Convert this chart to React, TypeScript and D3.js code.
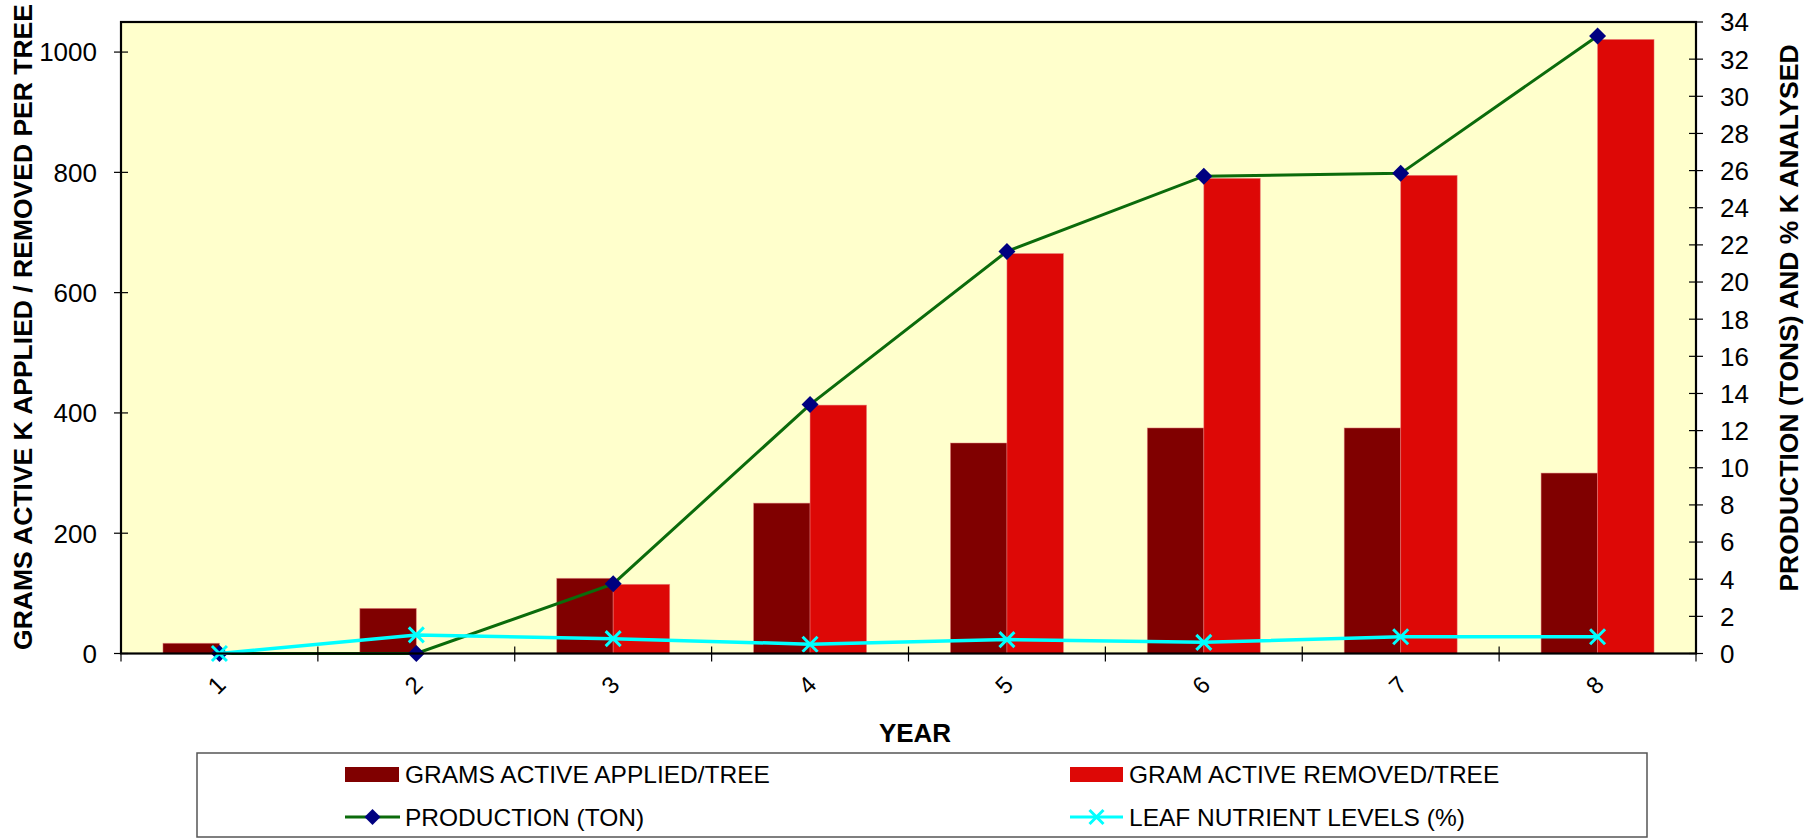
import React from 'react';
import * as d3 from 'd3';

const years = ['1', '2', '3', '4', '5', '6', '7', '8'];
const applied = [17, 75, 125, 250, 350, 375, 375, 300];
const removed = [0, 0, 115, 413, 665, 790, 795, 1021];
const production = [0, 0, 3.75, 13.4, 21.65, 25.7, 25.85, 33.25];
const leaf = [0, 1.0, 0.8, 0.5, 0.75, 0.6, 0.9, 0.9];
const leftTicks = [0, 200, 400, 600, 800, 1000];
const rightTicks = d3.range(0, 35, 2);
const barKeys = ['applied', 'removed'];

const W = 1816, H = 839;
const L = 121, R = 1696, T = 22, B = 653.5;
const FONT = '"Liberation Sans", Arial, Helvetica, sans-serif';

const C_APPLIED = '#800000';
const C_REMOVED = '#DD0806';
const C_PROD = '#0B6B0B';
const C_MARK = '#000080';
const C_LEAF = '#00FFFF';

function Diamond({ x, y, r }: { x: number; y: number; r: number }) {
  return <path d={`M${x},${y - r}L${x + r},${y}L${x},${y + r}L${x - r},${y}Z`} fill={C_MARK} />;
}
function Cross({ x, y, r }: { x: number; y: number; r: number }) {
  return (
    <path d={`M${x - r},${y - r}L${x + r},${y + r}M${x - r},${y + r}L${x + r},${y - r}`} stroke={C_LEAF} strokeWidth={3} fill="none" />
  );
}

export default function App() {
  const x0 = d3.scaleBand<string>().domain(years).range([L, R]).padding(0);
  const bw = x0.bandwidth();
  const x1 = d3.scaleBand<string>().domain(barKeys).range([0, bw]).paddingInner(0).paddingOuter(0.743);
  const yL = d3.scaleLinear().domain([0, 1050]).range([B, T]);
  const yR = d3.scaleLinear().domain([0, 34]).range([B, T]);
  const cx = (i: number) => (x0(years[i]) as number) + bw / 2;

  const prodLine = d3.line<number>().x((_, i) => cx(i)).y((d) => yR(d)).curve(d3.curveLinear);
  const leafLine = d3.line<number>().x((_, i) => cx(i)).y((d) => yR(d)).curve(d3.curveLinear);

  const series = [applied, removed];
  const colors = [C_APPLIED, C_REMOVED];

  return (
    <svg width={W} height={H} style={{ position: 'absolute', left: 0, top: 0, background: '#fff' }} fontFamily={FONT}>
      <rect x={L} y={T} width={R - L} height={B - T} fill="#FFFFCC" />
      {years.map((yr, i) => (
        <g key={yr}>
          {series.map((s, k) =>
            s[i] > 0 ? (
              <rect
                key={k}
                x={(x0(yr) as number) + (x1(barKeys[k]) as number)}
                y={yL(s[i])}
                width={x1.bandwidth()}
                height={B - yL(s[i])}
                fill={colors[k]}
                stroke="#E88080"
                strokeOpacity={0.6}
                strokeWidth={0.8}
              />
            ) : null
          )}
        </g>
      ))}
      <path d={prodLine(production) || ''} fill="none" stroke={C_PROD} strokeWidth={3} />
      {production.map((v, i) => (
        <Diamond key={i} x={cx(i)} y={yR(v)} r={8.5} />
      ))}
      <path d={leafLine(leaf) || ''} fill="none" stroke={C_LEAF} strokeWidth={3.5} />
      {leaf.map((v, i) => (
        <Cross key={i} x={cx(i)} y={yR(v)} r={7.5} />
      ))}
      <rect x={L} y={T} width={R - L} height={B - T} fill="none" stroke="#000" strokeWidth={2.2} />

      {leftTicks.map((t) => (
        <g key={t}>
          <line x1={L - 7} x2={L + 7} y1={yL(t)} y2={yL(t)} stroke="#000" strokeWidth={1.2} />
          <text x={97} y={yL(t)} dy="0.36em" textAnchor="end" fontSize={26}>
            {t}
          </text>
        </g>
      ))}
      {rightTicks.map((t) => (
        <g key={t}>
          <line x1={R - 7} x2={R + 7} y1={yR(t)} y2={yR(t)} stroke="#000" strokeWidth={1.2} />
          <text x={1720} y={yR(t)} dy="0.36em" textAnchor="start" fontSize={26}>
            {t}
          </text>
        </g>
      ))}
      {d3.range(years.length + 1).map((i) => {
        const xx = L + i * bw;
        return <line key={i} x1={xx} x2={xx} y1={B - 7} y2={B + 8} stroke="#000" strokeWidth={1.2} />;
      })}
      {years.map((yr, i) => (
        <text
          key={yr}
          transform={`translate(${cx(i) - 3},${685}) rotate(-45)`}
          textAnchor="middle"
          dy="0.36em"
          fontSize={24}
        >
          {yr}
        </text>
      ))}
      <text x={915} y={742} textAnchor="middle" fontSize={26} fontWeight="bold">
        YEAR
      </text>
      <text transform={`translate(32,327) rotate(-90)`} textAnchor="middle" fontSize={26.5} fontWeight="bold">
        GRAMS ACTIVE K APPLIED / REMOVED PER TREE
      </text>
      <text transform={`translate(1798,318) rotate(-90)`} textAnchor="middle" fontSize={26.5} fontWeight="bold">
        PRODUCTION (TONS) AND % K ANALYSED
      </text>

      <rect x={197} y={753} width={1450} height={84} fill="#fff" stroke="#555" strokeWidth={1.5} />
      <rect x={345} y={767} width={54} height={15} fill={C_APPLIED} />
      <text x={405} y={774} dy="0.36em" fontSize={24.5}>
        GRAMS ACTIVE APPLIED/TREE
      </text>
      <line x1={345} x2={400} y1={817} y2={817} stroke={C_PROD} strokeWidth={3} />
      <Diamond x={372.5} y={817} r={8} />
      <text x={405} y={817} dy="0.36em" fontSize={24.5}>
        PRODUCTION (TON)
      </text>
      <rect x={1070} y={767} width={53} height={15} fill={C_REMOVED} />
      <text x={1129} y={774} dy="0.36em" fontSize={24.5}>
        GRAM ACTIVE REMOVED/TREE
      </text>
      <line x1={1070} x2={1123} y1={817} y2={817} stroke={C_LEAF} strokeWidth={3} />
      <Cross x={1096.5} y={817} r={7} />
      <text x={1129} y={817} dy="0.36em" fontSize={24.5}>
        LEAF NUTRIENT LEVELS (%)
      </text>
    </svg>
  );
}
